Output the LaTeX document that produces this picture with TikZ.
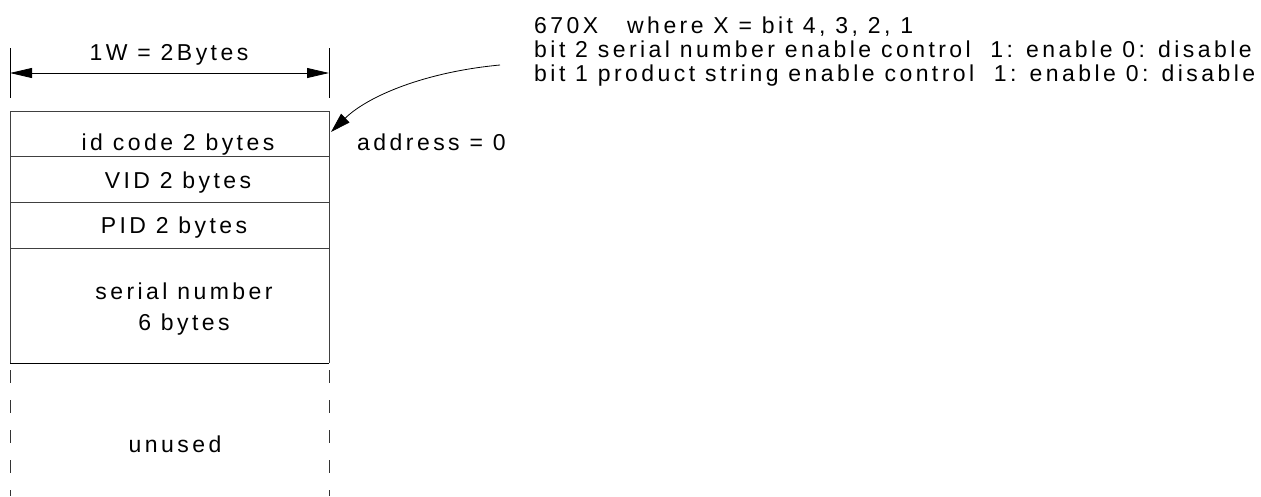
\documentclass[tikz,border=0pt]{standalone}
\usepackage{fontspec}
\setmainfont{Liberation Sans}[LetterSpace=15]
\usetikzlibrary{arrows.meta}
\begin{document}
\begin{tikzpicture}[x=1pt,y=-1pt,
  txt/.style={inner sep=0pt,font=\fontsize{23}{31}\selectfont,anchor=base},
  ltxt/.style={inner sep=0pt,font=\fontsize{23}{24}\selectfont,anchor=base west},
  boxline/.style={line width=1pt,draw=black!75},
  dim/.style={line width=0.8pt,{Triangle[length=22pt,width=10pt]}-{Triangle[length=22pt,width=10pt]}},
  pointer/.style={line width=0.8pt,-{Triangle[length=20pt,width=12pt]}},
  dashline/.style={line width=0.9pt,draw=black!80,dash pattern=on 13pt off 17pt,dash phase=23pt}]
\useasboundingbox (0,0) rectangle (1261,496);
% memory map rows
\coordinate (tl) at (10,111);
\coordinate (tr) at (329,111);
\coordinate (l1) at (10,156); \coordinate (r1) at (329,156);
\coordinate (l2) at (10,202); \coordinate (r2) at (329,202);
\coordinate (l3) at (10,248); \coordinate (r3) at (329,248);
\coordinate (l4) at (10,363); \coordinate (r4) at (329,363);
\coordinate (lb) at (10,496); \coordinate (rb) at (329,496);
\draw[boxline] (l4) -- (tl) -- (tr) -- (r4);
\draw[boxline] (l1) -- (r1);
\draw[boxline] (l2) -- (r2);
\draw[boxline] (l3) -- (r3);
\draw[line width=1pt] (l4) -- (r4);
\draw[dashline] (l4) -- (lb);
\draw[dashline] (r4) -- (rb);
\node[txt] (idc) at (178,150) {id code 2 bytes};
\node[txt] (vid) at (178,188) {VID 2 bytes};
\node[txt] (pid) at (174,233) {PID 2 bytes};
\node[txt] (ser) at (184,299) {serial number};
\node[txt] (ser2) at (184,330) {6 bytes};
\node[txt] (unu) at (175,452) {unused};
% dimension
\coordinate (dl1) at (10,48); \coordinate (dl2) at (10,98);
\coordinate (dr1) at (329,48); \coordinate (dr2) at (329,98);
\draw[line width=1pt] (dl1) -- (dl2);
\draw[line width=1pt] (dr1) -- (dr2);
\coordinate (al) at (10,73); \coordinate (ar) at (329,73);
\draw[dim] (al) -- (ar);
\node[txt] (w) at (169,60) {1W = 2Bytes};
% notes
\node[ltxt] (n1) at (534,33) {670X};
\node[ltxt] (n1b) at (627,33) {where X = bit 4, 3, 2, 1};
\node[ltxt] (n2) at (534,57) {bit 2 serial number enable control\ \ 1: enable 0: disable};
\node[ltxt] (n3) at (534,81) {bit 1 product string enable control\ \ 1: enable 0: disable};
\node[ltxt] (addr) at (357,150) {address = 0};
\coordinate (ps) at (500,65);
\coordinate (pe) at (331,132);
\draw[pointer] (ps) .. controls (425,72) and (368,96) .. (pe);
\end{tikzpicture}
\end{document}
